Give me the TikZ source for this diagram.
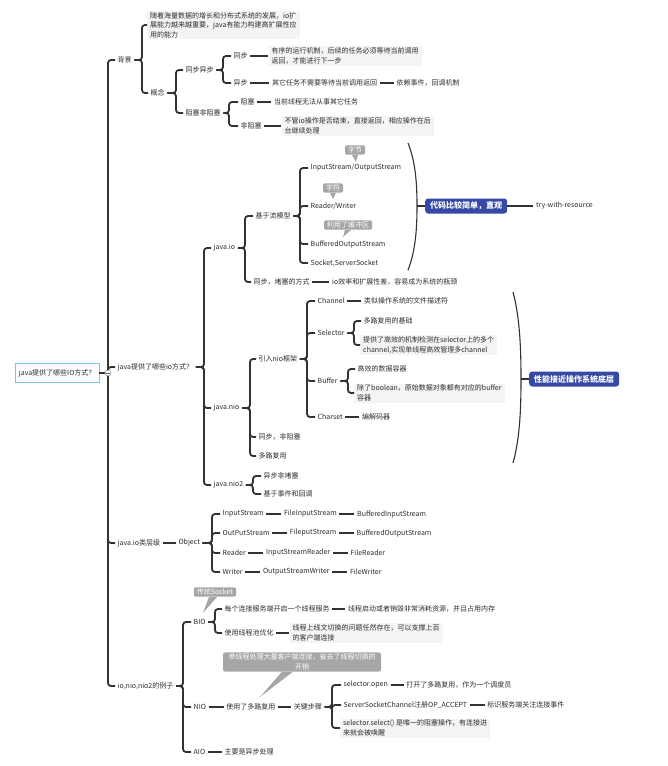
\documentclass[tikz,border=0pt]{standalone}
\usepackage{fontspec}
\setmainfont{Noto Sans CJK SC}
\usetikzlibrary{positioning,calc}
\definecolor{lineink}{RGB}{50,50,50}
\definecolor{textink}{RGB}{45,45,45}
\definecolor{topicblue}{RGB}{55,73,165}
\definecolor{notegray}{RGB}{166,166,166}
\definecolor{rootline}{RGB}{125,195,232}
\definecolor{leaffill}{RGB}{244,244,244}

\tikzset{
  topic/.style={anchor=west, inner xsep=2.5pt, inner ysep=1.5pt, text=textink},
  leaf/.style={topic, fill=leaffill, align=left, inner xsep=3pt},
  rootbox/.style={anchor=west, draw=rootline, line width=0.8pt, fill=white,
    inner xsep=3.5pt, minimum height=19pt, text=textink},
  bluebox/.style={anchor=west, fill=topicblue, text=white, rounded corners=3pt,
    font=\fontsize{8}{10}\selectfont\bfseries, inner xsep=5pt, minimum height=15pt},
  note/.style={fill=notegray, text=white, rounded corners=2pt, inner xsep=3pt,
    inner ysep=1.5pt, align=center},
  conn/.style={draw=lineink, line width=1.8pt, rounded corners=3pt},
  link/.style={draw=lineink, line width=1.4pt},
  brk/.style={to path={-- (\tikztostart -| #1,0) |- (\tikztotarget)}},
  brace/.style={draw=lineink, line width=1.1pt}
}

\begin{document}
\begin{tikzpicture}[x=1pt, y=-1pt, node distance=14pt, font=\fontsize{7}{9.5}\selectfont]
    \useasboundingbox (0,0) rectangle (667,766);
    \fill[white] (0,0) rectangle (667,766);

    % Root and first level
    \node[rootbox] (root) at (15,373) {java提供了哪些IO方式？};
    \node[topic] (bg) at (115,60) {背景};
    \node[topic] (q) at (115,367) {java提供了哪些io方式？};
    \node[topic] (hier) at (115,543) {java.io类层级};
    \node[topic] (ex) at (115,686) {io,nio,nio2的例子};
    \foreach \c in {bg,q,hier,ex}
        \draw[conn] (root.east) to[brk=108] (\c.west);

    % Background
    \node[leaf] (bgtxt) at (147,25) {随着海量数据的增长和分布式系统的发展，io扩\\展能力越来越重要，java有能力构建高扩展性应\\用的能力};
    \node[topic] (concept) at (148,93) {概念};
    \foreach \c in {bgtxt,concept}
        \draw[conn] (bg.east) to[brk=142] (\c.west);

    \node[topic] (syncasync) at (183,70) {同步异步};
    \node[topic] (block) at (183,113) {阻塞非阻塞};
    \foreach \c in {syncasync,block}
        \draw[conn] (concept.east) to[brk=176] (\c.west);

    \node[topic] (sync) at (231,56) {同步};
    \node[topic] (async) at (231,83) {异步};
    \foreach \c in {sync,async}
        \draw[conn] (syncasync.east) to[brk=223] (\c.west);
    \node[leaf, right=18pt of sync] (synctxt) {有序的运行机制，后续的任务必须等待当前调用\\返回，才能进行下一步};
    \node[topic, right=19pt of async] (asynctxt) {其它任务不需要等待当前调用返回};
    \node[topic, right=of asynctxt] (asyncevt) {依赖事件，回调机制};
    \draw[link] (sync) -- (synctxt);
    \draw[link] (async) -- (asynctxt);
    \draw[link] (asynctxt) -- (asyncevt);

    \node[topic] (blocking) at (238,102) {阻塞};
    \node[topic] (nonblock) at (238,126) {非阻塞};
    \foreach \c in {blocking,nonblock}
        \draw[conn] (block.east) to[brk=229] (\c.west);
    \node[topic, right=of blocking] (blocktxt) {当前线程无法从事其它任务};
    \node[leaf, right=17pt of nonblock] (nonblocktxt) {不管io操作是否结束，直接返回，相应操作在后\\台继续处理};
    \draw[link] (blocking) -- (blocktxt);
    \draw[link] (nonblock) -- (nonblocktxt);

    % java.io
    \node[topic] (jio) at (211,248) {java.io};
    \node[topic] (jnio) at (211,408) {java.nio};
    \node[topic] (jnio2) at (211,485) {java.nio2};
    \foreach \c in {jio,jnio,jnio2}
        \draw[conn] (q.east) to[brk=204] (\c.west);

    \node[topic] (stream) at (253,216) {基于流模型};
    \node[topic] (jiosync) at (251,282) {同步，堵塞的方式};
    \foreach \c in {stream,jiosync}
        \draw[conn] (jio.east) to[brk=245] (\c.west);
    \node[topic, right=17pt of jiosync] (jiosynctxt) {io效率和扩展性差，容易成为系统的瓶颈};
    \draw[link] (jiosync) -- (jiosynctxt);

    \node[topic] (iostream) at (308,168) {InputStream/OutputStream};
    \node[topic] (rw) at (308,206) {Reader/Writer};
    \node[topic] (bos) at (308,244) {BufferedOutputStream};
    \node[topic] (sock) at (308,263) {Socket,ServerSocket};
    \foreach \c in {iostream,rw,bos,sock}
        \draw[conn] (stream.east) to[brk=300] (\c.west);

    % notes on the stream classes
    \node[note] (cbyte) at (355,150) {字节};
    \node[note] (cchar) at (333,188) {字符};
    \node[note] (cbuf) at (348,225) {利用了缓冲区};
    \coordinate (cbytetip) at (356,162);
    \coordinate (cchartip) at (333,199);
    \coordinate (cbuftip) at (343,237);
    \foreach \c in {cbyte,cchar,cbuf}
        \fill[notegray] ([xshift=-3pt]\c.south) -- ([xshift=3pt]\c.south) -- (\c tip) -- cycle;

    % summary brace of java.io
    \coordinate (b1t) at (408,143);
    \coordinate (b1m) at (417,206);
    \coordinate (b1b) at (408,270);
    \draw[brace] (b1t) .. controls (416,163) and (417,186) .. (b1m)
        .. controls (417,226) and (416,250) .. (b1b);
    \node[bluebox] (simple) at (425,206) {代码比较简单，直观};
    \node[topic, right=26pt of simple] (trywr) {try-with-resource};
    \draw[link] (b1m) -- (simple.west);
    \draw[link] (simple) -- (trywr);

    % java.nio
    \node[topic] (nioframe) at (256,359) {引入nio框架};
    \node[topic] (niosync) at (256,437) {同步，非阻塞};
    \node[topic] (niomux) at (256,456) {多路复用};
    \foreach \c in {nioframe,niosync,niomux}
        \draw[conn] (jnio.east) to[brk=250] (\c.west);

    \node[topic] (channel) at (315,301) {Channel};
    \node[topic] (selector) at (315,333) {Selector};
    \node[topic] (buffer) at (315,381) {Buffer};
    \node[topic] (charset) at (315,417) {Charset};
    \foreach \c in {channel,selector,buffer,charset}
        \draw[conn] (nioframe.east) to[brk=307] (\c.west);
    \node[topic, right=of channel] (channeltxt) {类似操作系统的文件描述符};
    \node[topic, right=of charset] (charsettxt) {编解码器};
    \draw[link] (channel) -- (channeltxt);
    \draw[link] (charset) -- (charsettxt);

    \node[topic] (seltxt1) at (361,321) {多路复用的基础};
    \node[leaf] (seltxt2) at (360,345) {提供了高效的机制检测在selector上的多个\\channel,实现单线程高效管理多channel};
    \foreach \c in {seltxt1,seltxt2}
        \draw[conn] (selector.east) to[brk=354] (\c.west);

    \node[topic] (buftxt1) at (355,369) {高效的数据容器};
    \node[leaf] (buftxt2) at (354,393) {除了boolean，原始数据对象都有对应的buffer\\容器};
    \foreach \c in {buftxt1,buftxt2}
        \draw[conn] (buffer.east) to[brk=348] (\c.west);

    % summary brace of java.nio
    \coordinate (b2t) at (513,292);
    \coordinate (b2m) at (521,379);
    \coordinate (b2b) at (513,463);
    \draw[brace] (b2t) .. controls (520,318) and (521,350) .. (b2m)
        .. controls (521,408) and (520,438) .. (b2b);
    \node[bluebox] (perf) at (529,379) {性能接近操作系统底层};
    \draw[link] (b2m) -- (perf.west);

    % java.nio2
    \node[topic] (aio1) at (261,476) {异步非堵塞};
    \node[topic] (aio2) at (261,494) {基于事件和回调};
    \foreach \c in {aio1,aio2}
        \draw[conn] (jnio2.east) to[brk=253] (\c.west);

    % class hierarchy
    \node[topic, right=13pt of hier] (obj) {Object};
    \draw[link] (hier) -- (obj);
    \foreach \n/\a/\b/\c/\y in {1/InputStream/FileInputStream/BufferedInputStream/514,
        2/OutPutStream/FileputStream/BufferedOutputStream/533,
        3/Reader/InputStreamReader/FileReader/553,
        4/Writer/OutputStreamWriter/FileWriter/572} {
        \node[topic] (ca\n) at (220,\y) {\a};
        \node[topic, right=15pt of ca\n] (cb\n) {\b};
        \node[topic, right=15pt of cb\n] (cc\n) {\c};
        \draw[conn] (obj.east) to[brk=212] (ca\n.west);
        \draw[link] (ca\n) -- (cb\n);
        \draw[link] (cb\n) -- (cc\n);
    }

    % examples
    \node[topic] (bio) at (191,622) {BIO};
    \node[topic] (nio) at (191,707) {NIO};
    \node[topic] (aio) at (191,752) {AIO};
    \foreach \c in {bio,nio,aio}
        \draw[conn] (ex.east) to[brk=183] (\c.west);

    \node[topic] (bio1) at (222,609) {每个连接服务端开启一个线程服务};
    \node[topic] (bio2) at (222,633) {使用线程池优化};
    \foreach \c in {bio1,bio2}
        \draw[conn] (bio.east) to[brk=215] (\c.west);
    \node[topic, right=13pt of bio1] (bio1txt) {线程启动或者销毁非常消耗资源，并且占用内存};
    \node[leaf, right=13pt of bio2] (bio2txt) {线程上线文切换的问题任然存在，可以支撑上百\\的客户端连接};
    \draw[link] (bio1) -- (bio1txt);
    \draw[link] (bio2) -- (bio2txt);

    \node[topic, right=15pt of nio] (niouse) {使用了多路复用};
    \node[topic, right=13pt of niouse] (keystep) {关键步骤};
    \draw[link] (nio) -- (niouse);
    \draw[link] (niouse) -- (keystep);
    \node[topic] (step1) at (341,685) {selector.open};
    \node[topic] (step2) at (341,705) {ServerSocketChannel注册OP\_ACCEPT};
    \node[leaf] (step3) at (340,728) {selector.select() 是唯一的阻塞操作，有连接进\\来就会被唤醒};
    \foreach \c in {step1,step2,step3}
        \draw[conn] (keystep.east) to[brk=332] (\c.west);
    \node[topic, right=13pt of step1] (step1txt) {打开了多路复用，作为一个调度员};
    \node[topic, right=15pt of step2] (step2txt) {标识服务端关注连接事件};
    \draw[link] (step1) -- (step1txt);
    \draw[link] (step2) -- (step2txt);

    \node[topic, right=14pt of aio] (aiotxt) {主要是异步处理};
    \draw[link] (aio) -- (aiotxt);

    % notes on the examples
    \node[note] (csock) at (215,592) {传统Socket};
    \node[note, text width=152pt] (cnio) at (302,662) {单线程处理大量客户端连接，省去了线程切换的\\开销};
    \coordinate (csocktip) at (203,613);
    \coordinate (cniotip) at (260,697);
    \fill[notegray] ([xshift=-6pt]csock.south) -- ([xshift=2pt]csock.south) -- (csocktip) -- cycle;
    \fill[notegray] ([xshift=-20pt]cnio.south) -- ([xshift=-9pt]cnio.south) -- (cniotip) -- cycle;

    % collapse toggle of the root
    \node[circle, draw=lineink!60, fill=white, inner sep=0pt, minimum size=6pt] (toggle) at (108,373) {};
    \draw[lineink!70, line width=0.5pt] ([xshift=-1.6pt]toggle.center) -- ([xshift=1.6pt]toggle.center);
\end{tikzpicture}
\end{document}
